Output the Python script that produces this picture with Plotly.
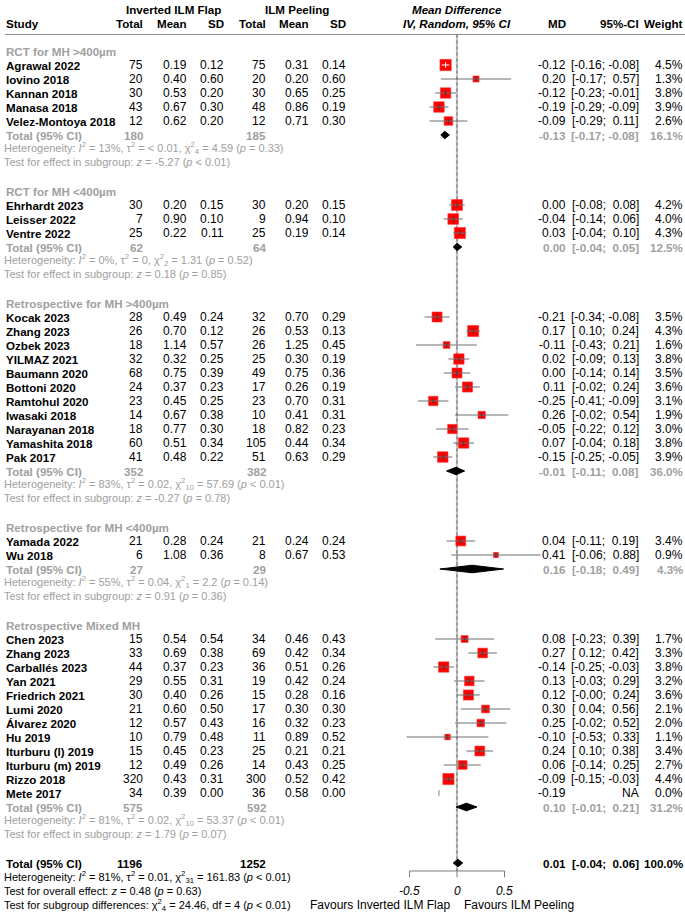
import math
import plotly.graph_objects as go

# ---------------- data ----------------
group_names = ["RCT for MH >400µm", "RCT for MH <400µm", "Retrospective for MH >400µm",
               "Retrospective for MH <400µm", "Retrospective Mixed MH"]

study = ["Agrawal 2022", "Iovino 2018", "Kannan 2018", "Manasa 2018", "Velez-Montoya 2018",
         "Ehrhardt 2023", "Leisser 2022", "Ventre 2022",
         "Kocak 2023", "Zhang 2023", "Ozbek 2023", "YILMAZ 2021", "Baumann 2020", "Bottoni 2020",
         "Ramtohul 2020", "Iwasaki 2018", "Narayanan 2018", "Yamashita 2018", "Pak 2017",
         "Yamada 2022", "Wu 2018",
         "Chen 2023", "Zhang 2023", "Carballés 2023", "Yan 2021", "Friedrich 2021", "Lumi 2020",
         "Álvarez 2020", "Hu 2019", "Iturburu (l) 2019", "Iturburu (m) 2019", "Rizzo 2018", "Mete 2017"]
group = [0]*5 + [1]*3 + [2]*11 + [3]*2 + [4]*12
n_flap = [75, 20, 30, 43, 12, 30, 7, 25, 28, 26, 18, 32, 68, 24, 23, 14, 18, 60, 41, 21, 6,
          15, 33, 44, 29, 30, 21, 12, 10, 15, 12, 320, 34]
mean_flap = [0.19, 0.40, 0.53, 0.67, 0.62, 0.20, 0.90, 0.22, 0.49, 0.70, 1.14, 0.32, 0.75, 0.37,
             0.45, 0.67, 0.77, 0.51, 0.48, 0.28, 1.08,
             0.54, 0.69, 0.37, 0.55, 0.40, 0.60, 0.57, 0.79, 0.45, 0.49, 0.43, 0.39]
sd_flap = [0.12, 0.60, 0.20, 0.30, 0.20, 0.15, 0.10, 0.11, 0.24, 0.12, 0.57, 0.25, 0.39, 0.23,
           0.25, 0.38, 0.30, 0.34, 0.22, 0.24, 0.36,
           0.54, 0.38, 0.23, 0.31, 0.26, 0.50, 0.43, 0.48, 0.23, 0.26, 0.31, 0.00]
n_peel = [75, 20, 30, 48, 12, 30, 9, 25, 32, 26, 26, 25, 49, 17, 23, 10, 18, 105, 51, 21, 8,
          34, 69, 36, 19, 15, 17, 16, 11, 25, 14, 300, 36]
mean_peel = [0.31, 0.20, 0.65, 0.86, 0.71, 0.20, 0.94, 0.19, 0.70, 0.53, 1.25, 0.30, 0.75, 0.26,
             0.70, 0.41, 0.82, 0.44, 0.63, 0.24, 0.67,
             0.46, 0.42, 0.51, 0.42, 0.28, 0.30, 0.32, 0.89, 0.21, 0.43, 0.52, 0.58]
sd_peel = [0.14, 0.60, 0.25, 0.19, 0.30, 0.15, 0.10, 0.14, 0.29, 0.13, 0.45, 0.19, 0.36, 0.19,
           0.31, 0.31, 0.23, 0.34, 0.29, 0.24, 0.53,
           0.43, 0.34, 0.26, 0.24, 0.16, 0.30, 0.23, 0.52, 0.21, 0.25, 0.42, 0.00]
md = [-0.12, 0.20, -0.12, -0.19, -0.09, 0.00, -0.04, 0.03, -0.21, 0.17, -0.11, 0.02, 0.00, 0.11,
      -0.25, 0.26, -0.05, 0.07, -0.15, 0.04, 0.41,
      0.08, 0.27, -0.14, 0.13, 0.12, 0.30, 0.25, -0.10, 0.24, 0.06, -0.09, -0.19]
ci_lo = [-0.16, -0.17, -0.23, -0.29, -0.29, -0.08, -0.14, -0.04, -0.34, 0.10, -0.43, -0.09, -0.14,
         -0.02, -0.41, -0.02, -0.22, -0.04, -0.25, -0.11, -0.06,
         -0.23, 0.12, -0.25, -0.03, -0.0, 0.04, -0.02, -0.53, 0.10, -0.14, -0.15, None]
ci_hi = [-0.08, 0.57, -0.01, -0.09, 0.11, 0.08, 0.06, 0.10, -0.08, 0.24, 0.21, 0.13, 0.14, 0.24,
         -0.09, 0.54, 0.12, 0.18, -0.05, 0.19, 0.88,
         0.39, 0.42, -0.03, 0.29, 0.24, 0.56, 0.52, 0.33, 0.38, 0.25, -0.03, None]
weight = [4.5, 1.3, 3.8, 3.9, 2.6, 4.2, 4.0, 4.3, 3.5, 4.3, 1.6, 3.8, 3.5, 3.6, 3.1, 1.9, 3.0, 3.8,
          3.9, 3.4, 0.9, 1.7, 3.3, 3.8, 3.2, 3.6, 2.1, 2.0, 1.1, 3.4, 2.7, 4.4, 0.0]

grp_n_flap = [180, 62, 352, 27, 575]
grp_n_peel = [185, 64, 382, 29, 592]
grp_md = [-0.13, 0.00, -0.01, 0.16, 0.10]
grp_lo = [-0.17, -0.04, -0.11, -0.18, -0.01]
grp_hi = [-0.08, 0.05, 0.08, 0.49, 0.21]
grp_w = [16.1, 12.5, 36.0, 4.3, 31.2]
het_I2 = ["13%", "0%", "83%", "55%", "81%"]
het_tau2 = ["< 0.01", "0", "0.02", "0.04", "0.02"]
het_df = [4, 2, 10, 1, 10]
het_chi2 = ["4.59", "1.31", "57.69", "2.2", "53.37"]
het_p = ["= 0.33", "= 0.52", "< 0.01", "= 0.14", "< 0.01"]
test_z = ["-5.27", "0.18", "-0.27", "0.91", "1.79"]
test_p = ["< 0.01", "= 0.85", "= 0.78", "= 0.36", "= 0.07"]

tot_n_flap, tot_n_peel = 1196, 1252
tot_md, tot_lo, tot_hi, tot_w = 0.01, -0.04, 0.06, 100.0
tot_het = dict(I2="81%", tau2="0.01", df=31, chi2="161.83", p="< 0.01")
tot_test = dict(z="0.48", p="= 0.63")
sub_diff = dict(chi2="24.46", df=4, p="< 0.01")

axis_ticks = [-0.5, 0, 0.5]
axis_ticktext = ["-0.5", "0", "0.5"]
null_value = 0
favours_left = "Favours Inverted ILM Flap"
favours_right = "Favours ILM Peeling"

# ---------------- layout constants ----------------
W, H = 685, 915
ROW0, ROWPX = 9, 14           # pixel y of row 0, pixels per row
ZERO_PX, PXU = 457, 95        # pixel x of 0, pixels per unit
FONT = "Liberation Sans, Arial, sans-serif"
FS, FS_B, FS_HET = 12, 11.6, 11
GRAY = "#a0a0a0"
BLACK = "#000000"

COL = dict(study=5, n1=144, m1=188, s1=225, n2=267, m2=310, s2=347, md=567, ci=640, w=684)

def px(x):
    return x / W

def f2(v):
    return f"{v:.2f}"

def padn(v):
    s = f2(v)
    return s if s.startswith("-") else "\u00a0" + s

def ci_text(lo, hi):
    if lo is None:
        return "NA"
    return "[" + padn(lo) + "; " + padn(hi) + "]"

ann = []

def txt(x, row, text, anchor="right", color=BLACK, size=None, bold=False, italic=False):
    t = text
    if size is None:
        size = FS_B if bold else FS
    if bold:
        t = "<b>" + t + "</b>"
    if italic:
        t = "<i>" + t + "</i>"
    ann.append(dict(x=px(x), y=row, xref="paper", yref="y", text=t, showarrow=False,
                    xanchor=anchor, yanchor="middle", borderpad=0,
                    font=dict(family=FONT, size=size, color=color)))

# headers
txt(173, 0, "Inverted ILM Flap", anchor="center", bold=True)
txt(297, 0, "ILM Peeling", anchor="center", bold=True)
txt(ZERO_PX, 0, "Mean Difference", anchor="center", bold=True, italic=True)
txt(COL["study"], 1, "Study", anchor="left", bold=True)
for key, lab in [("n1", "Total"), ("m1", "Mean"), ("s1", "SD"), ("n2", "Total"),
                 ("m2", "Mean"), ("s2", "SD"), ("md", "MD"), ("ci", "95%-CI"), ("w", "Weight")]:
    txt(COL[key], 1, lab, bold=True)
txt(ZERO_PX, 1, "IV, Random, 95% CI", anchor="center", bold=True, italic=True)

# rows
study_rows = [None] * len(study)
grp_rows = []
row = 3
for g, gname in enumerate(group_names):
    txt(COL["study"], row, gname, anchor="left", color=GRAY, bold=True)
    row += 1
    for i in range(len(study)):
        if group[i] != g:
            continue
        study_rows[i] = row
        txt(COL["study"], row, study[i], anchor="left", bold=True)
        txt(COL["n1"], row, str(n_flap[i]))
        txt(COL["m1"], row, f2(mean_flap[i]))
        txt(COL["s1"], row, f2(sd_flap[i]))
        txt(COL["n2"], row, str(n_peel[i]))
        txt(COL["m2"], row, f2(mean_peel[i]))
        txt(COL["s2"], row, f2(sd_peel[i]))
        txt(COL["md"], row, f2(md[i]))
        txt(COL["ci"], row, ci_text(ci_lo[i], ci_hi[i]))
        txt(COL["w"], row, f"{weight[i]:.1f}%")
        row += 1
    grp_rows.append(row)
    txt(COL["study"], row, "Total (95% CI)", anchor="left", color=GRAY, bold=True)
    txt(COL["n1"], row, str(grp_n_flap[g]), color=GRAY, bold=True)
    txt(COL["n2"], row, str(grp_n_peel[g]), color=GRAY, bold=True)
    txt(COL["md"], row, f2(grp_md[g]), color=GRAY, bold=True)
    txt(COL["ci"], row, ci_text(grp_lo[g], grp_hi[g]), color=GRAY, bold=True)
    txt(COL["w"], row, f"{grp_w[g]:.1f}%", color=GRAY, bold=True)
    row += 1
    het = (f"Heterogeneity: <i>I</i><sup>2</sup> = {het_I2[g]}, τ<sup>2</sup> = {het_tau2[g]}, "
           f"χ<sup>2</sup><sub>{het_df[g]}</sub> = {het_chi2[g]} (<i>p</i> {het_p[g]})")
    txt(3, row - 0.07, het, anchor="left", color=GRAY, size=FS_HET)
    row += 1
    txt(3, row - 0.07, f"Test for effect in subgroup: <i>z</i> = {test_z[g]} (<i>p</i> {test_p[g]})",
        anchor="left", color=GRAY, size=FS_HET)
    row += 2

tot_row = row
txt(COL["study"], tot_row, "Total (95% CI)", anchor="left", bold=True)
txt(COL["n1"], tot_row, str(tot_n_flap), bold=True)
txt(COL["n2"], tot_row, str(tot_n_peel), bold=True)
txt(COL["md"], tot_row, f2(tot_md), bold=True)
txt(COL["ci"], tot_row, ci_text(tot_lo, tot_hi), bold=True)
txt(COL["w"], tot_row, f"{tot_w:.1f}%", bold=True)
txt(3, tot_row + 1, f"Heterogeneity: <i>I</i><sup>2</sup> = {tot_het['I2']}, τ<sup>2</sup> = {tot_het['tau2']}, "
    f"χ<sup>2</sup><sub>{tot_het['df']}</sub> = {tot_het['chi2']} (<i>p</i> {tot_het['p']})",
    anchor="left", size=FS_HET)
txt(3, tot_row + 2, f"Test for overall effect: <i>z</i> = {tot_test['z']} (<i>p</i> {tot_test['p']})",
    anchor="left", size=FS_HET)
txt(3, tot_row + 3, f"Test for subgroup differences: χ<sup>2</sup><sub>{sub_diff['df']}</sub> = "
    f"{sub_diff['chi2']}, df = {sub_diff['df']} (<i>p</i> {sub_diff['p']})", anchor="left", size=FS_HET)

axis_row = tot_row + 0.57
for tv, tt in zip(axis_ticks, axis_ticktext):
    ann.append(dict(x=tv, y=tot_row + 2, xref="x", yref="y", text="<i>" + tt + "</i>", showarrow=False,
                    xanchor="center", yanchor="middle", font=dict(family=FONT, size=FS, color=BLACK)))
txt(451, tot_row + 3, favours_left, anchor="right")
txt(463, tot_row + 3, favours_right, anchor="left")

# ---------------- traces ----------------
fig = go.Figure()

# squares
sq_x, sq_y, sq_s = [], [], []
for i in range(len(study)):
    sq_x.append(md[i]); sq_y.append(study_rows[i]); sq_s.append(5.33 * math.sqrt(weight[i]))
fig.add_trace(go.Scatter(x=sq_x, y=sq_y, mode="markers", hoverinfo="skip",
                         marker=dict(symbol="square", size=sq_s, color="#ff0000", opacity=1,
                                     line=dict(color="#ff3030", width=0.6))))

# CI lines
ci_x_dark, ci_y_dark, ci_x_w, ci_y_w = [], [], [], []
tick_col = []
for i in range(len(study)):
    if ci_lo[i] is None:
        tick_col.append("#808080")
        continue
    inside = (ci_hi[i] - ci_lo[i]) * PXU <= sq_s[i]
    if inside:
        ci_x_w += [ci_lo[i], ci_hi[i], None]; ci_y_w += [study_rows[i]] * 2 + [None]
        tick_col.append("#ffffff")
    else:
        ci_x_dark += [ci_lo[i], ci_hi[i], None]; ci_y_dark += [study_rows[i]] * 2 + [None]
        tick_col.append("#404040")
fig.add_trace(go.Scatter(x=ci_x_dark, y=ci_y_dark, mode="lines", hoverinfo="skip",
                         line=dict(color="#6e6e6e", width=1)))
fig.add_trace(go.Scatter(x=ci_x_w, y=ci_y_w, mode="lines", hoverinfo="skip",
                         line=dict(color="#ffffff", width=1)))
fig.add_trace(go.Scatter(x=md, y=study_rows, mode="markers", hoverinfo="skip",
                         marker=dict(symbol="line-ns", size=4, color=tick_col, opacity=1,
                                     line=dict(color=tick_col, width=1))))

# diamonds
dh = 0.27
dx, dy = [], []
for g in range(len(group_names)):
    r = grp_rows[g]
    dx += [grp_lo[g], grp_md[g], grp_hi[g], grp_md[g], grp_lo[g], None]
    dy += [r, r - dh, r, r + dh, r, None]
dx += [tot_lo, tot_md, tot_hi, tot_md, tot_lo]
dy += [tot_row, tot_row - dh, tot_row, tot_row + dh, tot_row]
fig.add_trace(go.Scatter(x=dx, y=dy, mode="lines", fill="toself", fillcolor="#000000",
                         hoverinfo="skip", line=dict(color="#000000", width=1)))

# ---------------- shapes ----------------
rule_row = 1.82
shapes = [
    dict(type="line", xref="paper", yref="y", x0=px(5), x1=1, y0=rule_row, y1=rule_row,
         line=dict(color="#8c8c8c", width=1)),
    dict(type="line", xref="x", yref="y", x0=null_value, x1=null_value, y0=rule_row, y1=axis_row,
         line=dict(color="#c4c4c4", width=2.2), layer="below"),
    dict(type="line", xref="x", yref="y", x0=null_value, x1=null_value, y0=rule_row, y1=axis_row,
         line=dict(color="#6a6a6a", width=1, dash="dot"), layer="below"),
    dict(type="line", xref="x", yref="y", x0=axis_ticks[0], x1=axis_ticks[-1], y0=axis_row, y1=axis_row,
         line=dict(color="#7a7a7a", width=1)),
]
for tv in axis_ticks:
    shapes.append(dict(type="line", xref="x", yref="y", x0=tv, x1=tv, y0=axis_row, y1=axis_row + 0.45,
                       line=dict(color="#7a7a7a", width=1)))

fig.update_layout(
    width=W, height=H, margin=dict(l=0, r=0, t=0, b=0),
    paper_bgcolor="white", plot_bgcolor="white", showlegend=False,
    xaxis=dict(range=[-ZERO_PX / PXU, (W - ZERO_PX) / PXU], visible=False, fixedrange=True),
    yaxis=dict(range=[(H - ROW0) / ROWPX, -ROW0 / ROWPX], visible=False, fixedrange=True),
    annotations=ann, shapes=shapes,
)
fig.write_html("out.html", config=dict(displayModeBar=False),
               post_script="document.body.style.margin='0';document.body.style.overflow='hidden';")
